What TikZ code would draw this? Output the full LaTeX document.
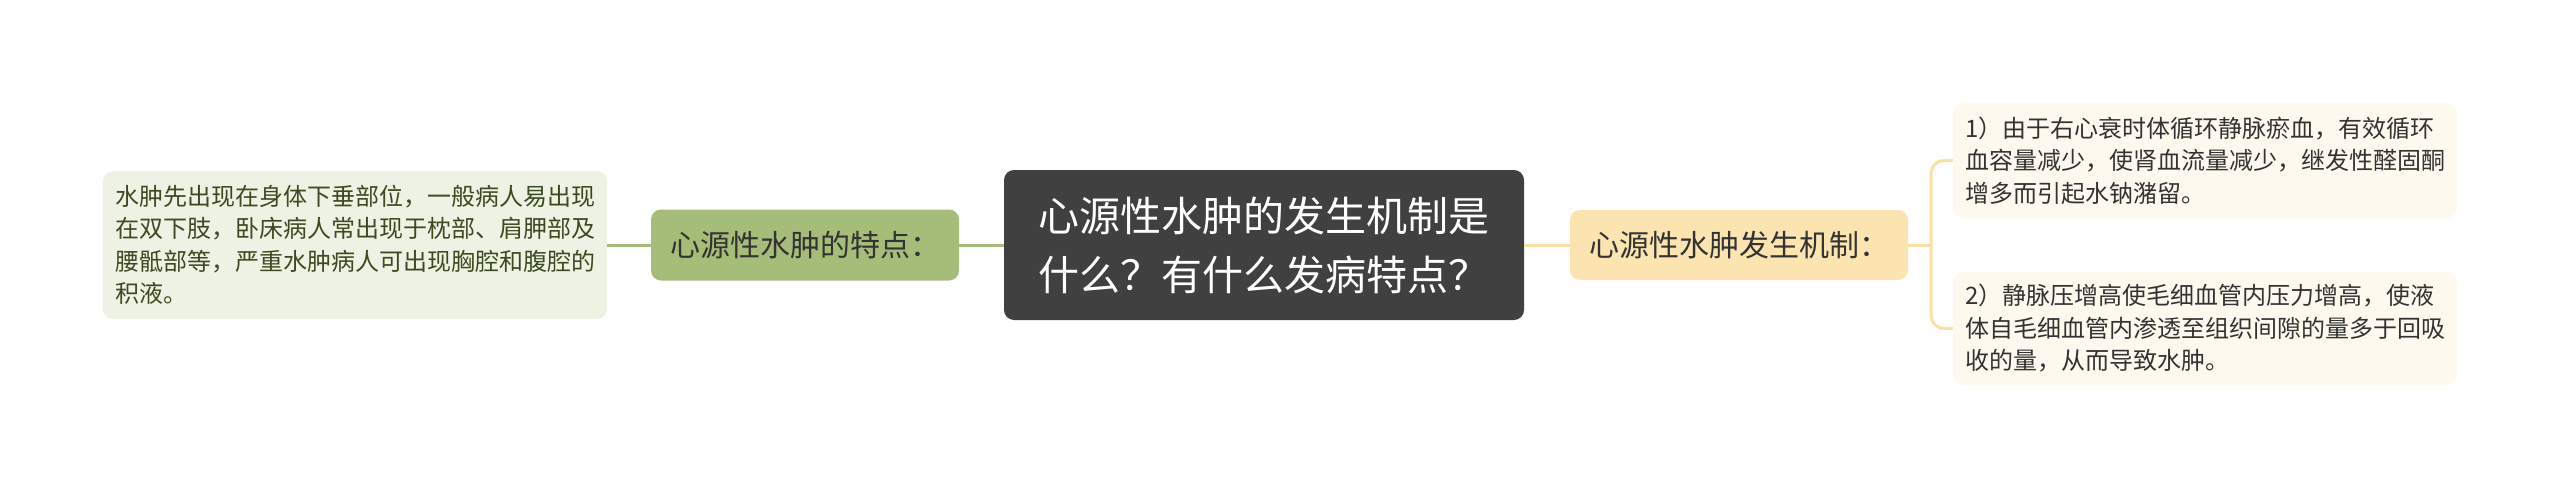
\documentclass[tikz,border=0pt]{standalone}
\usepackage{fontspec}
\setmainfont{Noto Sans CJK SC}
\definecolor{cfill}{HTML}{404040}
\definecolor{gbr}{HTML}{A6BD79}
\definecolor{gleaf}{HTML}{EEF2E4}
\definecolor{gtext}{HTML}{3C4A20}
\definecolor{ybr}{HTML}{FCE4B0}
\definecolor{yleaf}{HTML}{FDF9EE}
\definecolor{yline}{HTML}{FAE0A8}
\definecolor{dtext}{HTML}{333333}
\tikzset{
  box/.style={rounded corners=10pt, inner sep=0pt, align=left},
  centralbox/.style={box, fill=cfill, text=white, font=\fontsize{41pt}{59pt}\selectfont},
  lbranch/.style={box, fill=gbr, text=dtext, font=\fontsize{30pt}{36pt}\selectfont},
  rbranch/.style={box, fill=ybr, text=dtext, font=\fontsize{30pt}{36pt}\selectfont},
  lleaf/.style={box, fill=gleaf, text=gtext, font=\fontsize{24pt}{32.5pt}\selectfont},
  rleaf/.style={box, fill=yleaf, text=dtext, font=\fontsize{24pt}{32.5pt}\selectfont},
  gconn/.style={draw=gbr, line width=3pt},
  yconn/.style={draw=yline, line width=3pt},
}
\begin{document}
\begin{tikzpicture}[x=1pt, y=-1pt]
\useasboundingbox (0,0) rectangle (2560,490);
\node[centralbox, minimum width=520pt, minimum height=150pt] (c) at (1264,245)
  {心源性水肿的发生机制是\\什么？有什么发病特点？};
\node[lbranch, minimum width=308pt, minimum height=71pt] (lb) at (805,245)
  {心源性水肿的特点：};
\node[lleaf, minimum width=504pt, minimum height=148pt] (ll) at (355,245)
  {水肿先出现在身体下垂部位，一般病人易出现\\在双下肢，卧床病人常出现于枕部、肩胛部及\\腰骶部等，严重水肿病人可出现胸腔和腹腔的\\积液。};
\node[rbranch, minimum width=338pt, minimum height=70pt] (rb) at (1739,245)
  {心源性水肿发生机制：};
\node[rleaf, minimum width=504pt, minimum height=115pt] (r1) at (2205,160.5)
  {1）由于右心衰时体循环静脉瘀血，有效循环\\血容量减少，使肾血流量减少，继发性醛固酮\\增多而引起水钠潴留。};
\node[rleaf, minimum width=504pt, minimum height=113pt] (r2) at (2205,328.5)
  {2）静脉压增高使毛细血管内压力增高，使液\\体自毛细血管内渗透至组织间隙的量多于回吸\\收的量，从而导致水肿。};
\coordinate (j) at (1931,245);
\draw[gconn] (c.west) -- (lb.east);
\draw[gconn] (lb.west) -- (ll.east);
\draw[yconn] (c.east) -- (rb.west);
\draw[yconn] (rb.east) -- (j);
\draw[yconn, rounded corners=13pt] (j) |- (r1.west);
\draw[yconn, rounded corners=13pt] (j) |- (r2.west);
\end{tikzpicture}
\end{document}
